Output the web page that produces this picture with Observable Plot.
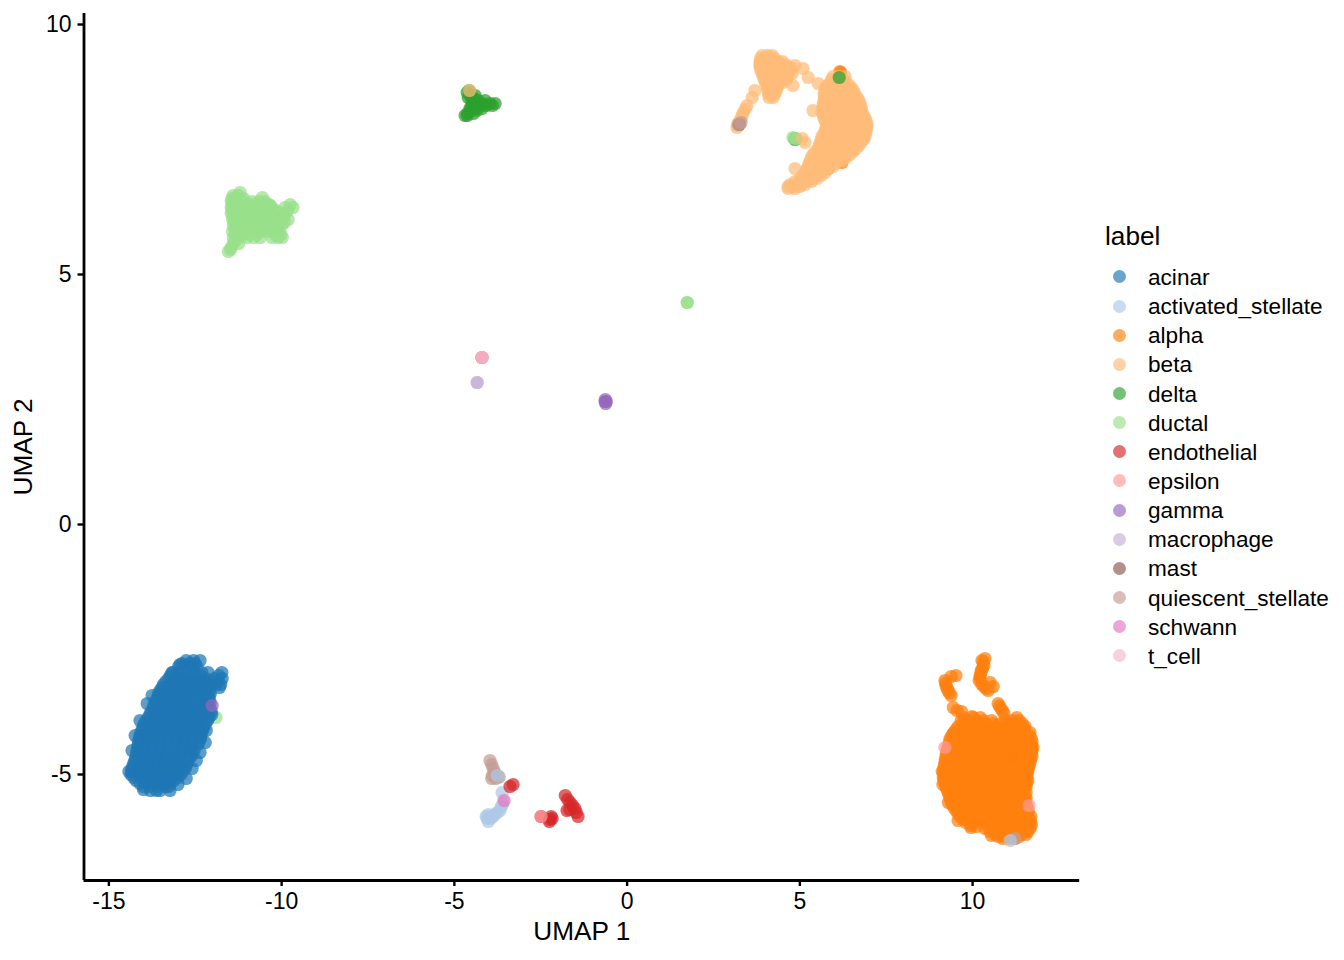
<!DOCTYPE html>
<html>
<head>
<meta charset="utf-8">
<script src="https://cdn.jsdelivr.net/npm/d3@7"></script>
<script src="https://cdn.jsdelivr.net/npm/@observablehq/plot@0.6"></script>
<style>
html,body{margin:0;padding:0;background:#fff;}
#chart{position:relative;width:1344px;height:960px;font-family:"Liberation Sans",sans-serif;color:#000;overflow:hidden;}
#chart svg{position:absolute;left:0;top:0;background:#fff;}
#legend{position:absolute;left:1105px;top:220px;}
#legend .ttl{position:absolute;left:0;top:0;font-size:26.2px;line-height:32px;white-space:nowrap;}
#legend .row{position:absolute;left:0;height:29px;width:235px;}
#legend .sw{position:absolute;left:8px;top:7.5px;width:13px;height:13px;border-radius:50%;opacity:.66;}
#legend .lb{position:absolute;left:43px;top:0;font-size:22.6px;line-height:29px;white-space:nowrap;}
</style>
</head>
<body>
<div id="chart"><div id="legend"></div></div>
<script>
const labels = ["acinar","activated_stellate","alpha","beta","delta","ductal","endothelial","epsilon","gamma","macrophage","mast","quiescent_stellate","schwann","t_cell"];
const colors = ["#1f77b4","#aec7e8","#ff7f0e","#ffbb78","#2ca02c","#98df8a","#d62728","#ff9896","#9467bd","#c5b0d5","#8c564b","#c49c94","#e377c2","#f7b6d2"];
const xTicks = [-15,-10,-5,0,5,10];
const yTicks = [-5,0,5,10];

// Every row is [y, x, x, x, ...]
const acinarRows = [
[-2.72,-12.76,-12.55],
[-2.84,-12.98,-12.78,-12.60,-12.45],
[-2.96,-13.15,-12.95,-12.73,-12.52,-12.31,-11.73],
[-3.08,-13.27,-13.05,-12.84,-12.62,-12.40,-12.20,-11.95,-11.72],
[-3.20,-13.42,-13.20,-12.98,-12.76,-12.54,-12.32,-12.10,-11.90,-11.76],
[-3.32,-13.52,-13.30,-13.08,-12.86,-12.64,-12.42,-12.20,-12.08],
[-3.44,-13.58,-13.38,-13.16,-12.94,-12.72,-12.50,-12.28,-12.10],
[-3.56,-13.66,-13.46,-13.24,-13.02,-12.80,-12.58,-12.36,-12.14,-12.07],
[-3.68,-13.72,-13.52,-13.30,-13.08,-12.86,-12.64,-12.42,-12.20,-12.07],
[-3.80,-13.81,-13.60,-13.38,-13.16,-12.94,-12.72,-12.50,-12.28,-12.02],
[-3.92,-13.92,-13.68,-13.46,-13.24,-13.02,-12.80,-12.58,-12.36,-12.14],
[-4.04,-14.00,-13.78,-13.56,-13.34,-13.12,-12.90,-12.68,-12.46,-12.24],
[-4.16,-14.07,-13.85,-13.63,-13.41,-13.19,-12.97,-12.75,-12.53,-12.31],
[-4.28,-14.12,-13.92,-13.70,-13.48,-13.26,-13.04,-12.82,-12.60,-12.34],
[-4.40,-14.15,-13.95,-13.73,-13.51,-13.29,-13.07,-12.85,-12.63,-12.42],
[-4.52,-14.18,-13.98,-13.76,-13.54,-13.32,-13.10,-12.88,-12.66,-12.53],
[-4.64,-14.21,-14.01,-13.79,-13.57,-13.35,-13.13,-12.91,-12.62],
[-4.76,-14.27,-14.05,-13.83,-13.61,-13.39,-13.17,-12.95,-12.72],
[-4.88,-14.33,-14.10,-13.88,-13.66,-13.44,-13.22,-13.00,-12.79],
[-5.00,-14.36,-14.14,-13.92,-13.70,-13.48,-13.26,-13.04,-12.91],
[-5.12,-14.21,-14.00,-13.78,-13.56,-13.34,-13.12],
[-5.24,-14.00,-13.80,-13.58,-13.36,-13.26],
[-5.32,-13.80,-13.62,-13.52]
];
const acinarFill = [
[-2.78,-12.88,-12.66,-12.50],
[-3.02,-13.22,-13.00,-12.78,-12.56,-12.34,-11.82],
[-3.14,-13.35,-13.12,-12.90,-12.68,-12.46,-12.26,-12.04,-11.84],
[-3.26,-13.46,-13.24,-13.02,-12.80,-12.58,-12.36,-12.14,-11.80],
[-3.38,-13.56,-13.34,-13.12,-12.90,-12.68,-12.46,-12.24,-12.06],
[-3.50,-13.62,-13.40,-13.18,-12.96,-12.74,-12.52,-12.30,-12.10],
[-3.62,-13.70,-13.48,-13.26,-13.04,-12.82,-12.60,-12.38,-12.16],
[-3.74,-13.78,-13.56,-13.34,-13.12,-12.90,-12.68,-12.46,-12.24,-12.04],
[-3.86,-13.86,-13.64,-13.42,-13.20,-12.98,-12.76,-12.54,-12.32,-12.10],
[-3.98,-13.98,-13.74,-13.52,-13.30,-13.08,-12.86,-12.64,-12.42,-12.20],
[-4.10,-14.04,-13.82,-13.60,-13.38,-13.16,-12.94,-12.72,-12.50,-12.28],
[-4.22,-14.10,-13.88,-13.66,-13.44,-13.22,-13.00,-12.78,-12.56,-12.34],
[-4.34,-14.14,-13.92,-13.70,-13.48,-13.26,-13.04,-12.82,-12.58,-12.38],
[-4.46,-14.17,-13.95,-13.73,-13.51,-13.29,-13.07,-12.85,-12.60],
[-4.58,-14.20,-13.98,-13.76,-13.54,-13.32,-13.10,-12.88,-12.58],
[-4.70,-14.24,-14.02,-13.80,-13.58,-13.36,-13.14,-12.92,-12.70],
[-4.82,-14.30,-14.08,-13.86,-13.64,-13.42,-13.20,-12.98,-12.76],
[-4.94,-14.34,-14.12,-13.90,-13.68,-13.46,-13.24,-13.02,-12.86],
[-5.06,-14.28,-14.06,-13.84,-13.62,-13.40,-13.18,-13.00],
[-5.18,-14.10,-13.88,-13.66,-13.44,-13.22]
];
const acinarEdge = [[-12.21,-4.36],[-12.36,-4.56],[-12.47,-4.72],[-12.59,-4.88],[-12.76,-5.08],[-13.00,-5.20],[-13.23,-5.32],[-12.18,-4.12],[-13.75,-3.42],[-13.89,-3.58],[-14.10,-3.92],[-14.24,-4.22],[-14.33,-4.52],[-13.17,-2.96],[-12.94,-2.80],[-12.36,-2.72],[-12.13,-2.96],[-14.42,-4.94],[-14.00,-5.30]];
const alphaRows = [
[-2.68,10.36],[-2.72,10.27],[-2.82,10.33],[-2.92,10.25],[-3.02,10.22],[-3.12,10.19],[-3.16,10.51],[-3.20,10.27],[-3.28,10.39],[-3.32,10.45],
[-2.76,10.31],[-2.87,10.29],[-2.97,10.24],[-3.07,10.21],[-3.24,10.33],
[-3.04,9.38],[-3.12,9.20],[-3.17,9.22],[-3.22,9.23],[-3.27,9.26],[-3.32,9.29],[-3.37,9.33],[-3.42,9.38],[-3.66,9.44],[-3.72,9.55],
[-3.58,10.74],[-3.63,10.78],[-3.68,10.82],[-3.73,10.87],[-3.78,10.91],
[-3.92,9.67,9.88,10.10,10.32,10.55,10.95,11.15,11.35],
[-4.04,9.58,9.80,10.02,10.24,10.46,10.68,10.90,11.12,11.34,11.52],
[-4.16,9.46,9.68,9.90,10.12,10.34,10.56,10.78,11.00,11.22,11.44,11.66],
[-4.28,9.35,9.57,9.79,10.01,10.23,10.45,10.67,10.89,11.11,11.33,11.55,11.70],
[-4.40,9.32,9.54,9.76,9.98,10.20,10.42,10.64,10.86,11.08,11.30,11.52,11.70],
[-4.52,9.26,9.48,9.70,9.92,10.14,10.36,10.58,10.80,11.02,11.24,11.46,11.72],
[-4.64,9.23,9.45,9.67,9.89,10.11,10.33,10.55,10.77,10.99,11.21,11.43,11.72],
[-4.76,9.20,9.42,9.64,9.86,10.08,10.30,10.52,10.74,10.96,11.18,11.40,11.66],
[-4.88,9.17,9.39,9.61,9.83,10.05,10.27,10.49,10.71,10.93,11.15,11.37,11.61],
[-5.00,9.17,9.36,9.58,9.80,10.02,10.24,10.46,10.68,10.90,11.12,11.34,11.58],
[-5.12,9.17,9.39,9.61,9.83,10.05,10.27,10.49,10.71,10.93,11.15,11.37,11.55],
[-5.24,9.23,9.42,9.64,9.86,10.08,10.30,10.52,10.74,10.96,11.18,11.40,11.55],
[-5.36,9.29,9.51,9.73,9.95,10.17,10.39,10.61,10.83,11.05,11.27,11.55],
[-5.48,9.35,9.56,9.78,10.00,10.22,10.44,10.66,10.88,11.10,11.32,11.55],
[-5.60,9.41,9.62,9.84,10.06,10.28,10.50,10.72,10.94,11.16,11.38,11.55],
[-5.72,9.52,9.74,9.96,10.18,10.40,10.62,10.84,11.06,11.28,11.50,11.61],
[-5.84,9.64,9.85,10.07,10.29,10.51,10.73,10.95,11.17,11.39,11.69],
[-5.96,9.81,10.02,10.24,10.46,10.68,10.90,11.12,11.34,11.56,11.69],
[-6.08,10.36,10.58,10.80,11.02,11.24,11.46,11.66],
[-6.20,10.65,10.87,11.09,11.31,11.55],
[-6.28,10.88,11.05,11.23]
];
const alphaFill = [
[-3.86,9.75,10.02,10.22,11.28],
[-3.98,9.72,9.94,10.16,10.38,10.60,10.82,11.04,11.26,11.44],
[-4.10,9.52,9.74,9.96,10.18,10.40,10.62,10.84,11.06,11.28,11.50],
[-4.22,9.40,9.62,9.84,10.06,10.28,10.50,10.72,10.94,11.16,11.38,11.64],
[-4.34,9.33,9.55,9.77,9.99,10.21,10.43,10.65,10.87,11.09,11.31,11.53,11.72],
[-4.46,9.29,9.51,9.73,9.95,10.17,10.39,10.61,10.83,11.05,11.27,11.49,11.71],
[-4.58,9.24,9.46,9.68,9.90,10.12,10.34,10.56,10.78,11.00,11.22,11.44,11.70],
[-4.70,9.21,9.43,9.65,9.87,10.09,10.31,10.53,10.75,10.97,11.19,11.41,11.68],
[-4.82,9.18,9.40,9.62,9.84,10.06,10.28,10.50,10.72,10.94,11.16,11.38,11.64],
[-4.94,9.16,9.38,9.60,9.82,10.04,10.26,10.48,10.70,10.92,11.14,11.36,11.60],
[-5.06,9.15,9.37,9.59,9.81,10.03,10.25,10.47,10.69,10.91,11.13,11.35,11.57],
[-5.18,9.20,9.41,9.63,9.85,10.07,10.29,10.51,10.73,10.95,11.17,11.39,11.56],
[-5.30,9.26,9.46,9.68,9.90,10.12,10.34,10.56,10.78,11.00,11.22,11.44],
[-5.42,9.32,9.53,9.75,9.97,10.19,10.41,10.63,10.85,11.07,11.29,11.52],
[-5.54,9.38,9.59,9.81,10.03,10.25,10.47,10.69,10.91,11.13,11.35,11.53],
[-5.66,9.46,9.68,9.90,10.12,10.34,10.56,10.78,11.00,11.22,11.44,11.58],
[-5.78,9.58,9.80,10.02,10.24,10.46,10.68,10.90,11.12,11.34,11.60],
[-5.90,9.72,9.94,10.16,10.38,10.60,10.82,11.04,11.26,11.48,11.66],
[-6.02,9.95,10.45,10.67,10.89,11.11,11.33,11.55,11.70],
[-6.14,10.50,10.72,10.94,11.16,11.38,11.60],
[-6.24,10.75,10.96,11.14,11.36]
];
const alphaEdge = [[9.98,-3.84],[9.44,-4.18],[9.12,-4.94],[9.14,-5.20],[9.30,-5.56],[9.58,-5.92],[9.95,-6.06],[10.12,-6.04],[10.55,-6.22],[11.40,-6.20],[11.75,-4.46],[11.60,-5.12],[9.52,-3.02],[9.68,-3.74],[10.60,-3.24]];
const betaRows = [
[9.38,3.91,4.06,4.20],
[9.32,3.86,4.00,4.14,4.26],
[9.26,3.85,4.02,4.20,4.38,4.49],
[9.20,3.84,3.98,4.12,4.30,4.46,4.60],
[9.14,3.85,4.04,4.22,4.40,4.58,4.72],
[9.08,3.87,4.06,4.24,4.42,4.60,4.74],
[9.02,3.91,4.10,4.28,4.46,4.64,4.78],
[8.96,3.94,4.12,4.30,4.48,4.64],
[8.90,3.97,4.15,4.33,4.50,4.63],
[8.84,4.00,4.18,4.36,4.52],
[8.78,4.05,4.20,4.37],
[8.72,4.06,4.22,4.34],
[8.66,4.08,4.20,4.31],
[8.60,4.10,4.26],
[8.54,4.11,4.23],
[9.18,4.86],[9.12,5.09],[8.94,5.24],[8.78,4.80],
[8.68,3.70],[8.54,3.62],[8.38,3.47],[8.31,3.42],[8.24,3.36],[8.18,3.33],[8.12,3.30],[8.06,3.25],[8.02,3.21],[7.94,3.18],[7.98,3.20],
[8.96,5.96,6.12,6.31],
[8.84,5.88,6.06,6.22,6.34],
[8.90,5.92,6.08,6.26],
[8.82,5.53],
[8.78,5.80,5.98,6.16,6.32,6.44],
[8.72,5.73,5.92,6.10,6.30,6.51],
[8.66,5.72,5.90,6.08,6.26,6.44,6.56],
[8.60,5.70,5.88,6.06,6.24,6.42,6.60],
[8.54,5.71,5.92,6.12,6.32,6.52,6.66],
[8.48,5.70,5.90,6.10,6.30,6.50,6.71],
[8.42,5.68,5.88,6.08,6.28,6.48,6.74],
[8.36,5.67,5.86,6.04,6.22,6.40,6.58,6.77],
[8.30,5.66,5.86,6.06,6.26,6.46,6.66,6.78],
[8.28,5.38],
[8.24,5.64,5.84,6.04,6.24,6.44,6.64,6.80],
[8.18,5.68,5.88,6.08,6.28,6.48,6.68,6.85],
[8.12,5.70,5.90,6.10,6.30,6.50,6.70,6.89],
[8.06,5.74,5.94,6.14,6.34,6.54,6.74,6.92],
[8.00,5.79,5.98,6.16,6.34,6.52,6.74,6.95],
[7.94,5.76,5.96,6.16,6.36,6.56,6.76,6.94],
[7.88,5.73,5.92,6.12,6.32,6.52,6.72,6.92],
[7.82,5.70,5.90,6.10,6.30,6.50,6.70,6.90],
[7.76,5.64,5.86,6.06,6.26,6.46,6.66,6.89],
[7.70,5.62,5.82,6.02,6.22,6.42,6.62,6.84],
[7.64,5.15,5.59,5.80,6.00,6.20,6.40,6.60,6.77],
[7.58,5.56,5.76,5.96,6.16,6.36,6.56,6.70],
[7.52,5.53,5.72,5.92,6.12,6.32,6.63],
[7.46,5.45,5.65,5.85,6.05,6.25,6.54],
[7.40,5.38,5.60,5.80,6.00,6.22,6.45],
[7.34,5.34,5.55,5.75,5.95,6.15,6.34],
[7.28,5.30,5.50,5.70,5.90,6.08,6.22],
[7.22,5.27,5.46,5.64,5.84,6.02],
[7.16,5.24,5.42,5.60,5.78,5.96],
[7.12,4.86],
[7.10,5.20,5.38,5.56,5.78],
[7.04,5.15,5.32,5.50,5.73],
[6.98,5.08,5.26,5.44,5.62],
[6.92,5.01,5.18,5.36,5.50],
[6.86,4.86,5.02,5.20,5.34],
[6.80,4.72,4.90,5.04,5.15],
[6.76,4.66,4.82,5.00],
[6.72,4.66,4.86]
];
const ductalRows = [
[6.64,-11.20],
[6.58,-11.40,-11.26],
[6.54,-10.56],
[6.52,-11.44,-11.30,-11.10],
[6.46,-11.46,-11.25,-11.05,-10.85,-10.65,-10.48],
[6.40,-11.42,-11.18,-10.96,-10.76,-10.56,-10.36,-9.75],
[6.38,-10.33],
[6.34,-11.46,-11.26,-11.06,-10.86,-10.66,-10.46,-10.28,-9.90,-9.67],
[6.28,-11.44,-11.16,-10.94,-10.76,-10.56,-10.36,-10.16,-9.82],
[6.22,-11.46,-11.26,-11.06,-10.86,-10.66,-10.46,-10.26,-10.10,-9.90],
[6.16,-11.40,-11.16,-10.96,-10.74,-10.54,-10.34,-10.12,-9.95],
[6.10,-11.42,-11.22,-11.02,-10.82,-10.62,-10.42,-10.22,-10.02,-9.81],
[6.04,-11.36,-11.12,-10.92,-10.72,-10.52,-10.32,-10.12,-9.92],
[5.98,-11.40,-11.20,-11.00,-10.80,-10.60,-10.40,-10.22,-10.00],
[5.92,-11.34,-11.12,-10.90,-10.70,-10.50,-10.30,-10.12],
[5.86,-11.42,-11.22,-11.02,-10.82,-10.62,-10.42,-10.22,-10.08],
[5.80,-11.34,-11.12,-10.92,-10.72,-10.18,-10.02],
[5.74,-11.40,-11.20,-11.00,-10.80,-10.62,-10.28,-10.10,-9.98],
[5.68,-11.34],
[5.62,-11.40,-11.24],
[5.54,-11.46],[5.50,-11.48],[5.46,-11.54]
];
const deltaRows = [
[8.68,-4.57],[8.64,-4.63],[8.58,-4.54,-4.40],[8.54,-4.60,-4.46],[8.48,-4.49,-4.31,-4.11],[8.42,-3.97,-3.82,-4.38,-4.20],[8.38,-4.49,-4.25,-4.08,-3.90],[8.32,-4.55,-4.40,-4.20],[8.28,-4.54,-4.35],[8.22,-4.62,-4.45],[8.18,-4.69,-4.63]
];
const acinarExtra = [[4.86,7.72]];
const ductalExtra = [[-11.90,-3.86]];
const ductalTop = [[4.86,7.72],[4.80,7.74],[4.90,7.72],[1.74,4.44],[1.74,4.44]];
const deltaExtra = [[4.86,7.70],[6.14,8.94]];
const alphaExtra = [[6.16,9.06],[6.18,9.04],[5.82,7.12],[6.22,7.24],[5.93,7.52]];
const betaExtra = [[5.07,7.72],[-4.56,8.68]];
const endothelialPts = [[-3.30,-5.20],[-3.39,-5.24],[-1.79,-5.42],[-1.65,-5.56],[-1.72,-5.50],[-1.51,-5.68],[-1.58,-5.62],[-1.42,-5.84],[-1.47,-5.76],[-1.74,-5.72],[-1.66,-5.70],[-2.17,-5.88],[-2.23,-5.90],[-2.20,-5.84],[-2.25,-5.94],[-2.49,-5.84]];
const endothelialUnder = [[11.17,-4.64]];
const epsilonPts = [[9.20,-4.46],[11.63,-5.62],[-2.49,-5.84],[-4.20,3.34]];
const gammaPts = [[-0.64,2.46],[-0.62,2.42],[-0.63,2.50],[-0.60,2.46],[-12.01,-3.62]];
const macrophagePts = [[-4.34,2.84],[-4.34,2.84]];
const mastPts = [[-4.20,3.34],[3.25,8.00]];
const tCellPts = [[-4.20,3.34]];
const quiescentPts = [[-3.97,-4.72],[-3.92,-4.80],[-3.88,-4.88],[-3.84,-4.95],[-3.76,-5.02],[-3.90,-5.02],[-3.70,-5.05],[-3.92,-5.08],[-3.80,-5.08],[3.22,8.00],[3.30,8.04],[11.23,-6.28]];
const activatedPts = [[-4.05,-5.88],[-4.08,-5.84],[-4.02,-5.80],[-3.95,-5.88],[-3.88,-5.84],[-3.84,-5.80],[-3.76,-5.76],[-3.68,-5.72],[-3.64,-5.64],[-3.59,-5.58],[-3.62,-5.36],[-3.76,-5.02],[-4.02,-5.94],[11.09,-6.32]];
const schwannPts = [[-3.56,-5.52]];

const fromRows = (rows,label)=>rows.flatMap(([y,...xs])=>xs.map(x=>({x,y,label})));
const fromPairs = (pairs,label)=>pairs.map(([x,y])=>({x,y,label}));
const points = [
  ...fromPairs(endothelialUnder,"endothelial"),
  ...fromPairs(ductalExtra,"ductal"),
  ...fromRows(acinarRows,"acinar"),
  ...fromRows(acinarFill,"acinar"),
  ...fromPairs(acinarEdge,"acinar"),
  ...fromRows(alphaRows,"alpha"),
  ...fromRows(alphaFill,"alpha"),
  ...fromPairs(alphaEdge,"alpha"),
  ...fromPairs(alphaExtra,"alpha"),
  ...fromRows(betaRows,"beta"),
  ...fromPairs(acinarExtra,"acinar"),
  ...fromPairs(deltaExtra,"delta"),
  ...fromPairs(ductalTop,"ductal"),
  ...fromRows(ductalRows,"ductal"),
  ...fromRows(deltaRows,"delta"),
  ...fromPairs(betaExtra,"beta"),
  ...fromPairs(mastPts,"mast"),
  ...fromPairs(quiescentPts,"quiescent_stellate"),
  ...fromPairs(activatedPts,"activated_stellate"),
  ...fromPairs(endothelialPts,"endothelial"),
  ...fromPairs(epsilonPts,"epsilon"),
  ...fromPairs(tCellPts,"t_cell"),
  ...fromPairs(gammaPts,"gamma"),
  ...fromPairs(macrophagePts,"macrophage"),
  ...fromPairs(schwannPts,"schwann")
];

const xDomain = [-15.72,13.10];
const yDomain = [-7.12,10.22];
const fmt = d=>String(d);

const plot = Plot.plot({
  width:1344, height:960,
  marginLeft:83.5, marginRight:264.8, marginTop:13, marginBottom:80,
  style:{fontFamily:"Liberation Sans, sans-serif", background:"#fff", overflow:"visible"},
  x:{domain:xDomain}, y:{domain:yDomain},
  color:{type:"ordinal",domain:labels,range:colors},
  marks:[
    Plot.dot(points,{x:"x",y:"y",fill:"label",r:6.6,fillOpacity:.72,stroke:"none"}),
    Plot.ruleX([xDomain[0]],{stroke:"#000",strokeWidth:2.8}),
    Plot.ruleY([yDomain[0]],{stroke:"#000",strokeWidth:2.8}),
    Plot.axisX({ticks:xTicks,tickFormat:fmt,label:null,tickSize:6,tickPadding:6,fontSize:23,fill:"#000",stroke:"#000",strokeWidth:2.4}),
    Plot.axisY({ticks:yTicks,tickFormat:fmt,label:null,tickSize:6,tickPadding:6.5,fontSize:23,fill:"#000",stroke:"#000",strokeWidth:2.4}),
    Plot.text(["UMAP 1"],{frameAnchor:"bottom",dy:59,fontSize:26.2,fill:"#000"}),
    Plot.text(["UMAP 2"],{frameAnchor:"left",dx:-60,rotate:-90,textAnchor:"middle",fontSize:26.2,fill:"#000"})
  ]
});
document.getElementById("chart").prepend(plot);

const leg = d3.select("#legend");
leg.append("div").attr("class","ttl").text("label");
labels.forEach((l,i)=>{
  const row = leg.append("div").attr("class","row").style("top",(42.9+i*29.15)+"px");
  row.append("div").attr("class","sw").style("background",colors[i]);
  row.append("div").attr("class","lb").text(l);
});
</script>
</body>
</html>
